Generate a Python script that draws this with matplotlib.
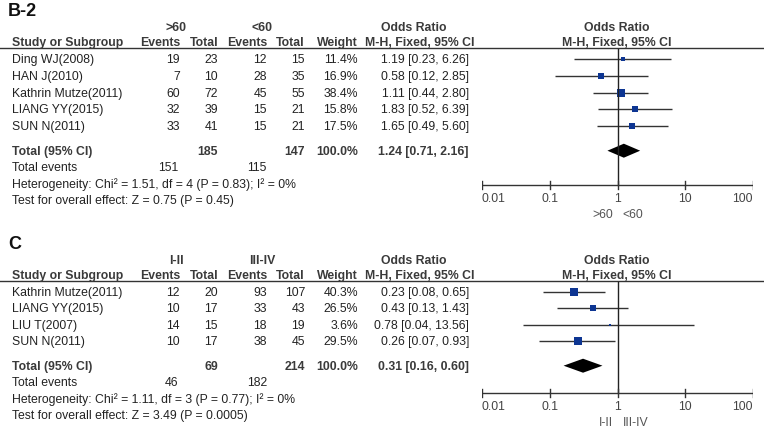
import matplotlib
matplotlib.use("Agg")
import matplotlib.pyplot as plt
from matplotlib.patches import Polygon
import numpy as np

# ---------------- data ----------------
b_title = "B-2"
b_groups = [">60", "<60"]
b_studies = ["Ding WJ(2008)", "HAN J(2010)", "Kathrin Mutze(2011)", "LIANG YY(2015)", "SUN N(2011)"]
b_ev1 = [19, 7, 60, 32, 33]
b_tot1 = [23, 10, 72, 39, 41]
b_ev2 = [12, 28, 45, 15, 15]
b_tot2 = [15, 35, 55, 21, 21]
b_weight = [11.4, 16.9, 38.4, 15.8, 17.5]
b_or = [1.19, 0.58, 1.11, 1.83, 1.65]
b_lo = [0.23, 0.12, 0.44, 0.52, 0.49]
b_hi = [6.26, 2.85, 2.80, 6.39, 5.60]
b_total = dict(tot1=185, tot2=147, ev1=151, ev2=115, orr=1.24, lo=0.71, hi=2.16)
b_het = "Heterogeneity: Chi\u00b2 = 1.51, df = 4 (P = 0.83); I\u00b2 = 0%"
b_test = "Test for overall effect: Z = 0.75 (P = 0.45)"

c_title = "C"
c_groups = ["I-II", "III-IV"]
c_studies = ["Kathrin Mutze(2011)", "LIANG YY(2015)", "LIU T(2007)", "SUN N(2011)"]
c_ev1 = [12, 10, 14, 10]
c_tot1 = [20, 17, 15, 17]
c_ev2 = [93, 33, 18, 38]
c_tot2 = [107, 43, 19, 45]
c_weight = [40.3, 26.5, 3.6, 29.5]
c_or = [0.23, 0.43, 0.78, 0.26]
c_lo = [0.08, 0.13, 0.04, 0.07]
c_hi = [0.65, 1.43, 13.56, 0.93]
c_total = dict(tot1=69, tot2=214, ev1=46, ev2=182, orr=0.31, lo=0.16, hi=0.60)
c_het = "Heterogeneity: Chi\u00b2 = 1.11, df = 3 (P = 0.77); I\u00b2 = 0%"
c_test = "Test for overall effect: Z = 3.49 (P = 0.0005)"

tick_vals = [0.01, 0.1, 1, 10, 100]
tick_labels = ["0.01", "0.1", "1", "10", "100"]

# ---------------- layout ----------------
W, H = 764, 435
fig = plt.figure(figsize=(W / 100, H / 100), dpi=100)
base = fig.add_axes([0, 0, 1, 1])
base.set_xlim(0, W)
base.set_ylim(H, 0)
base.axis("off")

FONT = "Liberation Sans"
FS = 8.8
TXT = "#222222"
HDR = "#3a3a3a"
SQ = "#0d3592"

X0, X1 = 482, 753  # pixel x of 0.01 and 100
fax = fig.add_axes([X0 / W, 0, (X1 - X0) / W, 1])
fax.set_xscale("log")
fax.set_xlim(0.01, 100)
fax.set_ylim(H, 0)
fax.axis("off")


def txt(x, y, s, ha="left", bold=False, color=TXT, size=FS, **kw):
    base.text(x, y, s, ha=ha, va="center", fontsize=size, family=FONT,
              fontweight="bold" if bold else "normal", color=color, **kw)


def panel(top, title, groups, studies, ev1, tot1, ev2, tot2, weight, orr, lo, hi,
          total, het, test, axis_y, row_gap=16.8):
    txt(8, top, title, bold=True, size=13, color="#111111")
    gy = top + 16
    hy = gy + 15
    ly = hy + 6
    txt(176, gy, groups[0], ha="center", bold=True, color=HDR)
    txt(262, gy, groups[1], ha="center", bold=True, color=HDR)
    txt(414, gy, "Odds Ratio", ha="center", bold=True, color=HDR)
    txt(617, gy, "Odds Ratio", ha="center", bold=True, color=HDR)
    txt(12, hy, "Study or Subgroup", bold=True, color=HDR)
    for x, s in [(180, "Events"), (218, "Total"), (267, "Events"), (305, "Total"), (358, "Weight")]:
        txt(x, hy, s, ha="right", bold=True, color=HDR)
    txt(420, hy, "M-H, Fixed, 95% CI", ha="center", bold=True, color=HDR)
    txt(617, hy, "M-H, Fixed, 95% CI", ha="center", bold=True, color=HDR)
    base.plot([0, W], [ly, ly], color="#333333", lw=1.0)

    y0 = ly + 11
    n = len(studies)
    ys = [y0 + i * row_gap for i in range(n)]
    for i in range(n):
        y = ys[i]
        txt(12, y, studies[i])
        txt(180, y, str(ev1[i]), ha="right")
        txt(218, y, str(tot1[i]), ha="right")
        txt(267, y, str(ev2[i]), ha="right")
        txt(305, y, str(tot2[i]), ha="right")
        txt(358, y, f"{weight[i]:.1f}%", ha="right")
        txt(469, y, f"{orr[i]:.2f} [{lo[i]:.2f}, {hi[i]:.2f}]", ha="right")
        fax.plot([lo[i], hi[i]], [y, y], color="#333333", lw=1.0, solid_capstyle="butt")
        side_px = 1.35 * np.sqrt(weight[i])
        fax.plot([orr[i]], [y], marker="s", ms=side_px * 0.72, color=SQ, mec=SQ, mew=0)

    ty = ys[-1] + 24.5
    txt(12, ty, "Total (95% CI)", bold=True, color=HDR)
    txt(218, ty, str(total["tot1"]), ha="right", bold=True, color=HDR)
    txt(305, ty, str(total["tot2"]), ha="right", bold=True, color=HDR)
    txt(358, ty, "100.0%", ha="right", bold=True, color=HDR)
    txt(469, ty, f"{total['orr']:.2f} [{total['lo']:.2f}, {total['hi']:.2f}]", ha="right", bold=True, color=HDR)
    dh = 7
    fax.add_patch(Polygon([(total["lo"], ty), (total["orr"], ty - dh), (total["hi"], ty),
                           (total["orr"], ty + dh)], closed=True, color="black", lw=0))
    ey = ty + 16.3
    txt(12, ey, "Total events")
    txt(178, ey, str(total["ev1"]), ha="right")
    txt(267, ey, str(total["ev2"]), ha="right")
    txt(12, ey + 16.3, het)
    txt(12, ey + 32.6, test)

    # axis
    fax.plot([1, 1], [ly + 1, axis_y], color="#222222", lw=1.0)
    fax.plot([0.01, 100], [axis_y, axis_y], color="#333333", lw=1.0)
    for j, (v, lab) in enumerate(zip(tick_vals, tick_labels)):
        fax.plot([v, v], [axis_y - 4, axis_y + 4], color="#333333", lw=1.0)
        ha = "left" if j == 0 else ("right" if j == len(tick_vals) - 1 else "center")
        fax.text(v, axis_y + 13, lab, ha=ha, va="center", fontsize=FS,
                 family=FONT, color="#444444")
    fax.text(0.85, axis_y + 29, groups[0], ha="right", va="center", fontsize=FS,
             family=FONT, color="#555555")
    fax.text(1.2, axis_y + 29, groups[1], ha="left", va="center", fontsize=FS,
             family=FONT, color="#555555")


panel(12, b_title, b_groups, b_studies, b_ev1, b_tot1, b_ev2, b_tot2, b_weight,
      b_or, b_lo, b_hi, b_total, b_het, b_test, axis_y=186)
panel(245, c_title, c_groups, c_studies, c_ev1, c_tot1, c_ev2, c_tot2, c_weight,
      c_or, c_lo, c_hi, c_total, c_het, c_test, axis_y=394, row_gap=16.4)

fig.savefig("out.png", dpi=100)
